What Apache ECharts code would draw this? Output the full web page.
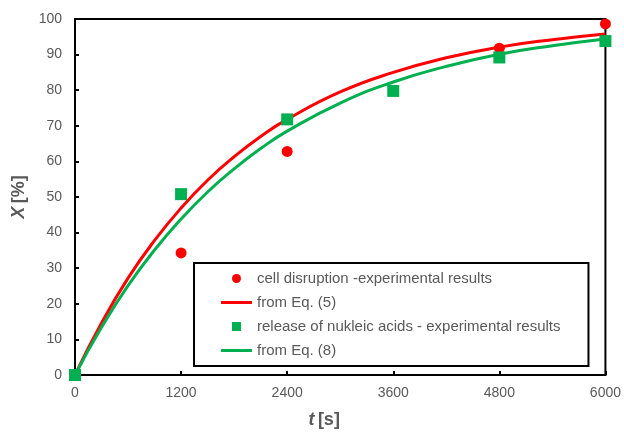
<!DOCTYPE html>
<html>
<head>
<meta charset="utf-8">
<script src="https://cdn.jsdelivr.net/npm/echarts@6/dist/echarts.min.js"></script>
<style>
  html, body { margin: 0; padding: 0; background: #fff; }
  #main { width: 624px; height: 434px; }
</style>
</head>
<body>
<div id="main"></div>
<script>
// experimental points
var tExp = [0, 1200, 2400, 3600, 4800, 6000];
var cellX = [0, 34.3, 62.8, null, 91.8, 98.6];       // cell disruption (no point at 3600)
var nuclX = [0, 50.8, 71.8, 79.8, 89.2, 93.8];       // release of nukleic acids

// model curves
var tFit = [0, 300, 600, 900, 1200, 1500, 1800, 2100, 2400, 3000, 3600, 4200, 4800, 5400, 6000];
var eq5 = [0, 14.6, 27.2, 37.8, 46.9, 54.7, 61.3, 67.0, 71.8, 79.5, 85.0, 89.1, 92.1, 94.2, 95.8];
var eq8 = [0, 13.4, 25.1, 35.1, 43.8, 51.4, 57.9, 63.6, 68.5, 76.4, 82.3, 86.7, 90.1, 92.5, 94.4];

var names = ['cell disruption -experimental results', 'from Eq. (5)',
  'release of nukleic acids - experimental results', 'from Eq. (8)'];

function pairs(xs, ys) {
  var out = [];
  for (var i = 0; i < xs.length; i++) {
    if (ys[i] != null) out.push([xs[i], ys[i]]);
  }
  return out;
}

var RED = '#ff0000';
var GREEN = '#00b050';
var GRAY = '#595959';
var FONT = '"Liberation Sans", Arial, sans-serif';
// legend icons: flat bar for the curves, small square for the nukleic acid points
var LINE_ICON = 'path://M0,0L31,0L31,3L0,3Z';
var SQUARE_ICON = 'path://M0,0L8,0L8,8L0,8Z';

var chart = echarts.init(document.getElementById('main'), null, { renderer: 'canvas' });

var nameRich = {
  i: { fontSize: 18, fontWeight: 'bold', fontStyle: 'italic', color: GRAY, fontFamily: FONT },
  b: { fontSize: 18, fontWeight: 'bold', color: GRAY, fontFamily: FONT }
};

var option = {
  animation: false,
  textStyle: { fontFamily: FONT },
  grid: {
    left: 75, right: 17, top: 19, bottom: 53,
    show: true, borderColor: '#000', borderWidth: 2
  },
  legend: {
    orient: 'vertical',
    left: 194, top: 263,
    padding: [8, 28, 8, 27],
    itemWidth: 31, itemHeight: 9, itemGap: 9,
    borderColor: '#000', borderWidth: 2,
    backgroundColor: '#fff',
    textStyle: { color: GRAY, fontSize: 15, fontFamily: FONT },
    data: [
      { name: names[0], icon: 'circle' },
      { name: names[1], icon: LINE_ICON },
      { name: names[2], icon: SQUARE_ICON },
      { name: names[3], icon: LINE_ICON }
    ]
  },
  xAxis: {
    type: 'value', min: 0, max: 6000, interval: 1200,
    name: '{i|t} {b|[s]}',
    nameLocation: 'middle', nameGap: 36,
    nameTextStyle: { rich: nameRich, padding: [0, 32, 0, 0] },
    axisLine: { lineStyle: { color: '#000', width: 2 } },
    axisTick: { inside: true, length: 4, lineStyle: { color: '#000', width: 2 } },
    axisLabel: { color: GRAY, fontSize: 14, margin: 11, formatter: function (v) { return String(v); } },
    splitLine: { show: false }
  },
  yAxis: {
    type: 'value', min: 0, max: 100, interval: 10,
    name: '{i|X} {b|[%]}',
    nameLocation: 'middle', nameGap: 46, nameRotate: 90,
    nameTextStyle: { rich: nameRich },
    axisLine: { lineStyle: { color: '#000', width: 2 } },
    axisTick: { inside: true, length: 4, lineStyle: { color: '#000', width: 2 } },
    axisLabel: { color: GRAY, fontSize: 14, margin: 13 },
    splitLine: { show: false }
  },
  series: [
    {
      name: names[1], type: 'line', smooth: true, symbol: 'none',
      lineStyle: { color: RED, width: 3 }, itemStyle: { color: RED },
      data: pairs(tFit, eq5), z: 2
    },
    {
      name: names[3], type: 'line', smooth: true, symbol: 'none',
      lineStyle: { color: GREEN, width: 3 }, itemStyle: { color: GREEN },
      data: pairs(tFit, eq8), z: 2
    },
    {
      name: names[0], type: 'scatter', symbol: 'circle', symbolSize: 11,
      itemStyle: { color: RED, opacity: 1 }, clip: false,
      data: pairs(tExp, cellX), z: 3
    },
    {
      name: names[2], type: 'scatter', symbol: 'rect', symbolSize: 12,
      itemStyle: { color: GREEN, opacity: 1 }, clip: false,
      data: pairs(tExp, nuclX), z: 4
    }
  ]
};

chart.setOption(option);
</script>
</body>
</html>
